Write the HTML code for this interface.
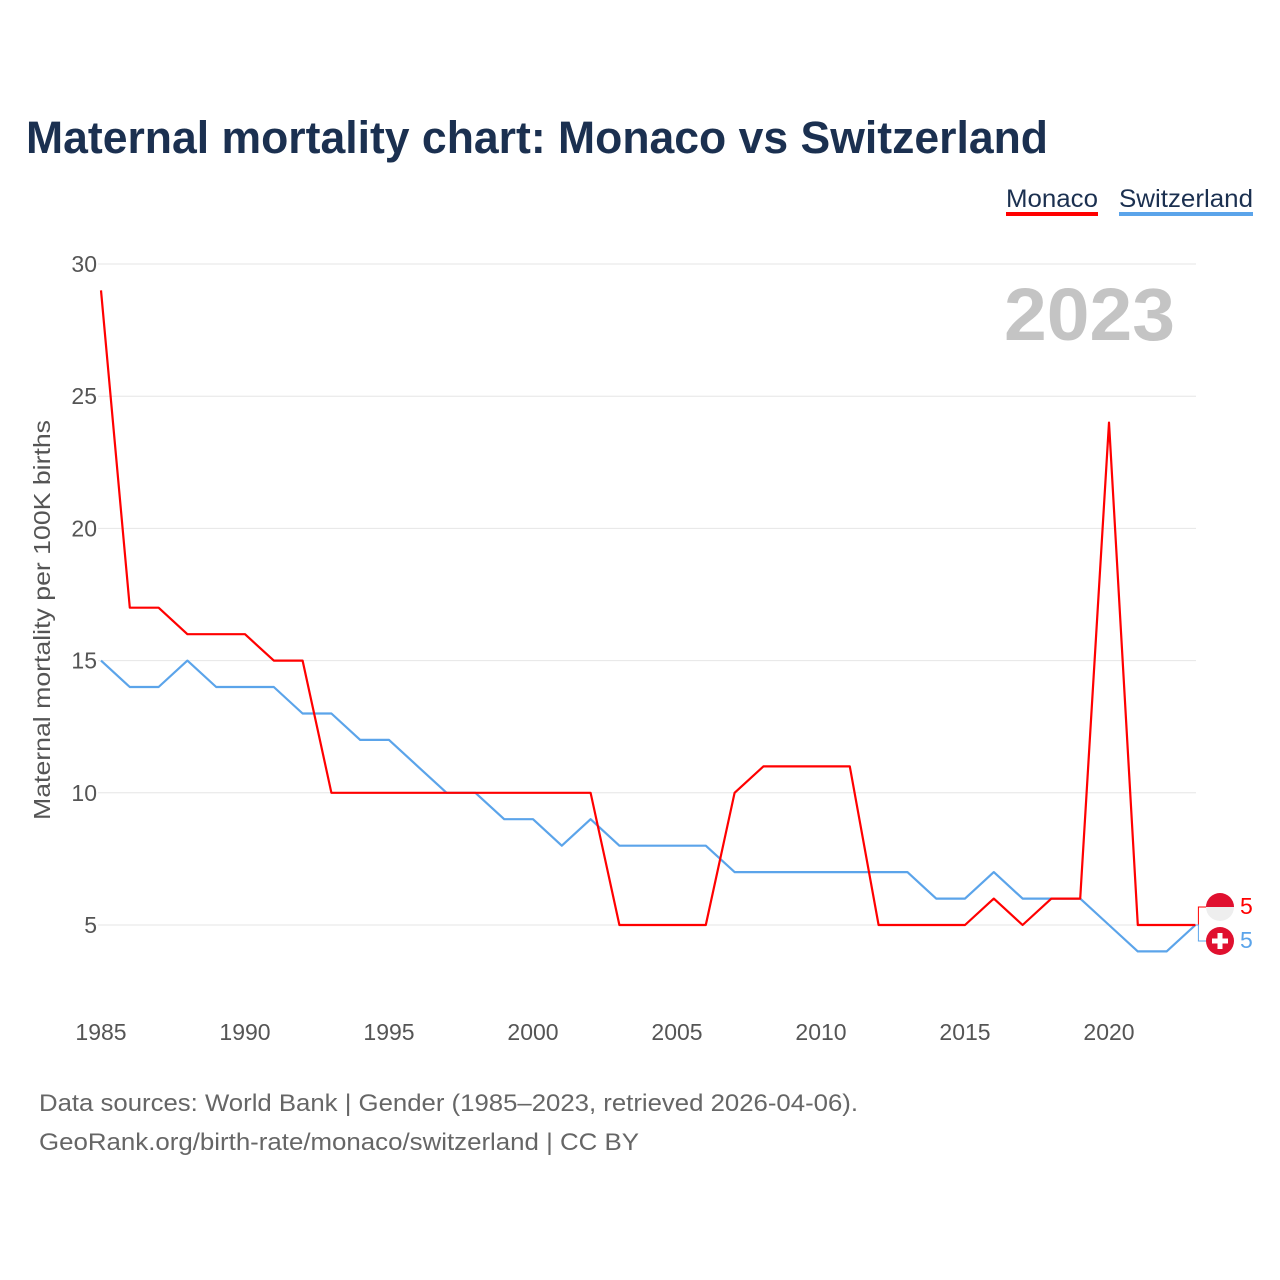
<!DOCTYPE html>
<html><head><meta charset="utf-8"><style>
body{margin:0;background:#fff;font-family:"Liberation Sans",sans-serif}
#wrap{position:relative;width:1280px;height:1280px;overflow:hidden}
</style></head><body><div id="wrap">
<svg id="chart" width="1280" height="1280"></svg>
</div>
<script>
const years=[1985,1986,1987,1988,1989,1990,1991,1992,1993,1994,1995,1996,1997,1998,1999,2000,2001,2002,2003,2004,2005,2006,2007,2008,2009,2010,2011,2012,2013,2014,2015,2016,2017,2018,2019,2020,2021,2022,2023];
const monaco=[29,17,17,16,16,16,15,15,10,10,10,10,10,10,10,10,10,10,5,5,5,5,10,11,11,11,11,5,5,5,5,6,5,6,6,24,5,5,5];
const switzerland=[15,14,14,15,14,14,14,13,13,12,12,11,10,10,9,9,8,9,8,8,8,8,7,7,7,7,7,7,7,6,6,7,6,6,6,5,4,4,5];
const yTicks=[5,10,15,20,25,30];
const xTicks=[1985,1990,1995,2000,2005,2010,2015,2020];
const NS='http://www.w3.org/2000/svg';
const svg=document.getElementById('chart');
const x=v=>101+(v-1985)*(1109-101)/35;
const y=v=>925-(v-5)*(925-264)/25;
function mk(tag,attrs,text){const e=document.createElementNS(NS,tag);for(const k in attrs)e.setAttribute(k,attrs[k]);if(text!==undefined)e.textContent=text;svg.appendChild(e);return e;}
let t=mk('text',{x:26,y:153,'font-size':45,'font-weight':'bold',fill:'#1b3050',textLength:1022,lengthAdjust:'spacingAndGlyphs'},'Maternal mortality chart: Monaco vs Switzerland');


t=mk('text',{x:1006,y:207,'font-size':25,fill:'#1b3050',textLength:92,lengthAdjust:'spacingAndGlyphs'},'Monaco');


t=mk('rect',{x:1006,y:212,width:92,height:4,fill:'#ff0000'});


t=mk('text',{x:1119,y:207,'font-size':25,fill:'#1b3050',textLength:134,lengthAdjust:'spacingAndGlyphs'},'Switzerland');


t=mk('rect',{x:1119,y:212,width:134,height:4,fill:'#5ba4ea'});


yTicks.forEach(v=>{
 let g=mk('line',{x1:98,x2:1196,y1:y(v),y2:y(v),stroke:'#e6e6e6','stroke-width':1});
 
 
 let l=mk('text',{x:97,y:y(v)+8,'font-size':23,fill:'#555','text-anchor':'end'},v);
 
 
});
xTicks.forEach(v=>{
 let l=mk('text',{x:x(v),y:1040,'font-size':23,fill:'#555','text-anchor':'middle'},v);
 
 
});
t=mk('text',{x:0,y:0,'font-size':23,fill:'#555','text-anchor':'middle',textLength:400,lengthAdjust:'spacingAndGlyphs',transform:'translate(50,620) rotate(-90)'},'Maternal mortality per 100K births');


t=mk('text',{x:1175,y:340,'font-size':74,'font-weight':'bold',fill:'#c4c4c4','text-anchor':'end',textLength:171,lengthAdjust:'spacingAndGlyphs'},'2023');


function line(arr,color,name){
 const d=arr.map((v,i)=>(i?'L':'M')+x(years[i]).toFixed(1)+','+y(v).toFixed(1)).join(' ');
 const p=mk('path',{d:d,fill:'none',stroke:color,'stroke-width':2.2,'stroke-linejoin':'round'});
 
 
}
line(switzerland,'#5ba4ea','switzerland-line');
line(monaco,'#ff0000','monaco-line');
const lx=x(2023), mY=y(monaco[monaco.length-1]), sY=y(switzerland[switzerland.length-1]);
let b=mk('path',{d:`M${lx},${mY} L${lx+3},${mY} L${lx+3},907 L1206,907`,fill:'none',stroke:'#ff0000','stroke-width':1});


b=mk('path',{d:`M${lx},${sY} L${lx+3},${sY} L${lx+3},941 L1206,941`,fill:'none',stroke:'#5ba4ea','stroke-width':1});


let f=mk('circle',{cx:1220,cy:907,r:14,fill:'#eeeeee'});


f=mk('path',{d:'M1206,907 A14,14 0 0 1 1234,907 Z',fill:'#e0102f'});


f=mk('circle',{cx:1220,cy:941,r:14,fill:'#e0102f'});


f=mk('path',{d:'M1217.5,933 h5 v5.5 h5.5 v5 h-5.5 v5.5 h-5 v-5.5 h-5.5 v-5 h5.5 Z',fill:'#fff'});


t=mk('text',{x:1240,y:914,'font-size':23,fill:'#ff0000'},monaco[monaco.length-1]);


t=mk('text',{x:1240,y:948,'font-size':23,fill:'#5ba4ea'},switzerland[switzerland.length-1]);


t=mk('text',{x:39,y:1111,'font-size':24,fill:'#666',textLength:819,lengthAdjust:'spacingAndGlyphs'},'Data sources: World Bank | Gender (1985–2023, retrieved 2026-04-06).');


t=mk('text',{x:39,y:1150,'font-size':24,fill:'#666',textLength:600,lengthAdjust:'spacingAndGlyphs'},'GeoRank.org/birth-rate/monaco/switzerland | CC BY');


</script></body></html>
